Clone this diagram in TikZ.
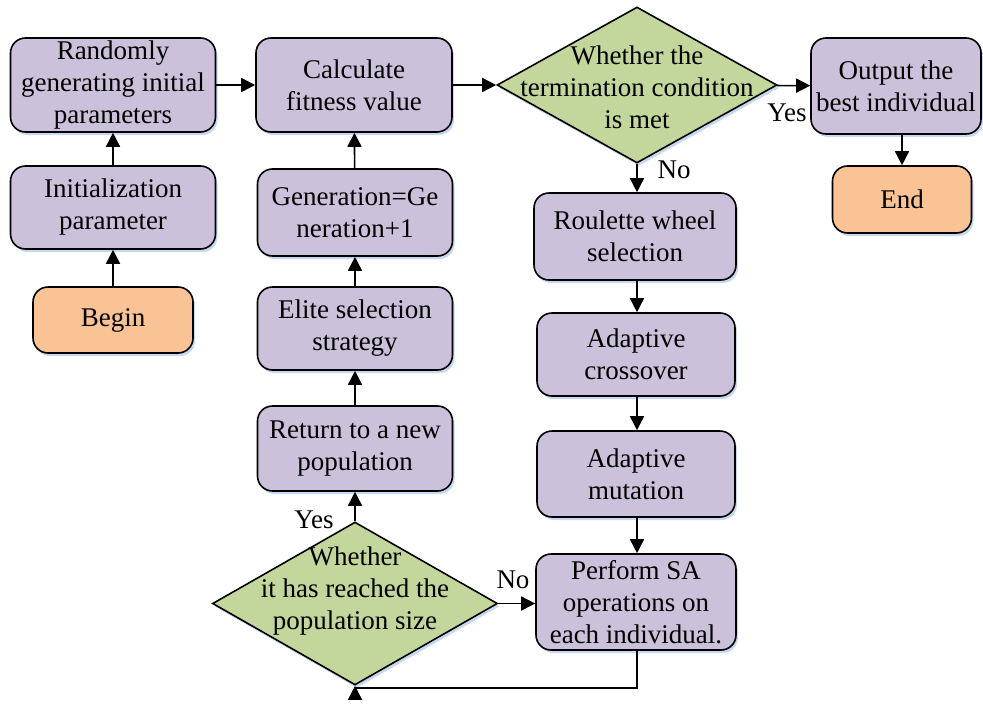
\documentclass[tikz,border=0pt]{standalone}
\usepackage{fontspec}
\setmainfont{Liberation Serif}
\usetikzlibrary{shapes.geometric,arrows.meta,shadows}
\definecolor{boxpurple}{HTML}{CCC1DA}
\definecolor{diagreen}{HTML}{C3D69B}
\definecolor{termorange}{HTML}{F9C396}
\definecolor{shadowblue}{HTML}{C6D9F1}
\begin{document}
\begin{tikzpicture}[x=1pt,y=-1pt,
  every node/.style={font=\fontsize{27}{32}\selectfont},
  sh/.style={general shadow={shadow xshift=2pt,shadow yshift=-3pt,fill=shadowblue}},
  procbox/.style={draw=black,line width=1.6pt,rounded corners=15pt,fill=boxpurple,align=center,inner sep=0pt,sh},
  termbox/.style={draw=black,line width=1.6pt,rounded corners=15pt,fill=termorange,align=center,inner sep=0pt,sh},
  decision/.style={draw=black,line width=1.6pt,diamond,fill=diagreen,inner sep=0pt,sh},
  arr/.style={line width=1.6pt,-{Triangle[length=14pt,width=14pt]}},
  lbl/.style={inner sep=0pt}]
\useasboundingbox (0,0) rectangle (983,715);
% left column
\node[procbox,minimum width=205,minimum height=94] (rand) at (113,85) {Randomly\\generating initial\\parameters};
\node[procbox,minimum width=205,minimum height=83] (init) at (113,207.5) {Initialization\\parameter};
\node[termbox,minimum width=160,minimum height=66] (begin) at (113,320) {Begin};
% second column
\node[procbox,minimum width=196,minimum height=94] (calc) at (354,85) {Calculate\\fitness value};
\node[procbox,minimum width=195,minimum height=87] (gen) at (355,212.5) {Generation=Ge\\neration+1};
\node[procbox,minimum width=195,minimum height=83] (elite) at (355,328.5) {Elite selection\\strategy};
\node[procbox,minimum width=195,minimum height=85] (ret) at (355,448.5) {Return to a new\\population};
\node[decision,minimum width=285,minimum height=163] (d2) at (355,603.5) {};
\node[lbl,align=center] at (355,591) {Whether\\it has reached the\\population size};
% third column
\node[decision,minimum width=280,minimum height=156] (d1) at (637,85) {};
\node[lbl,align=center] at (637,87) {Whether the\\termination condition\\is met};
\node[procbox,minimum width=202,minimum height=87] (roul) at (635,236.5) {Roulette wheel\\selection};
\node[procbox,minimum width=198,minimum height=83] (cross) at (636,354.5) {Adaptive\\crossover};
\node[procbox,minimum width=198,minimum height=86] (mut) at (636,474) {Adaptive\\mutation};
\node[procbox,minimum width=200,minimum height=96] (sa) at (636,602) {Perform SA\\operations on\\each individual.};
% right column
\node[procbox,minimum width=170,minimum height=96] (out) at (896,86) {Output the\\best individual};
\node[termbox,minimum width=139,minimum height=67] (end) at (902,199.5) {End};
\coordinate (loopR) at (637,688);
\coordinate (loopL) at (355,688);
% connectors
\draw[arr] (begin) -- (init);
\draw[arr] (init) -- (rand);
\draw[arr] (rand) -- (calc);
\draw[arr] (calc) -- (d1);
\draw[arr] (d1) -- (out);
\draw[arr] (out.south -| end.north) -- (end.north);
\draw[arr] (d1.south) -- (d1.south |- roul.north);
\draw[arr] (roul.south -| d1.south) -- (cross.north -| d1.south);
\draw[arr] (cross.south -| d1.south) -- (mut.north -| d1.south);
\draw[arr] (mut.south -| d1.south) -- (sa.north -| d1.south);
\draw[arr] (sa.south -| loopR) -- (loopR) -- (loopL) -- (d2.south);
\draw[arr] (d2.east) -- (d2.east -| sa.west);
\draw[arr] (d2.north) -- (ret.south);
\draw[arr] (ret) -- (elite);
\draw[arr] (elite) -- (gen);
\draw[arr] (gen) -- (calc);
% labels
\node[lbl] at (787,113) {Yes};
\node[lbl] at (674,170) {No};
\node[lbl] at (314,520) {Yes};
\node[lbl] at (513,580) {No};
\end{tikzpicture}
\end{document}
